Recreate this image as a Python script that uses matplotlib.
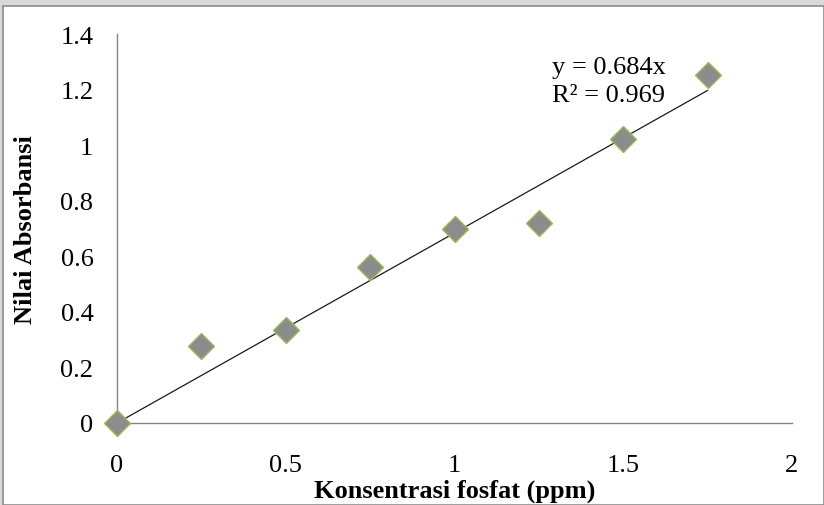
import matplotlib
matplotlib.use('Agg')
import matplotlib.pyplot as plt
from matplotlib.patches import Rectangle

konsentrasi = [0, 0.25, 0.5, 0.75, 1.0, 1.25, 1.5, 1.75]
absorbansi = [0, 0.277, 0.335, 0.562, 0.698, 0.72, 1.022, 1.252]
slope = 0.684
r2 = 0.969
xticks = [0, 0.5, 1, 1.5, 2]
yticks = [0, 0.2, 0.4, 0.6, 0.8, 1, 1.2, 1.4]

plt.rcParams['font.family'] = ['Liberation Serif', 'DejaVu Serif']

size = 824, 506
dpi = 100.0
fig = plt.figure(figsize=(size[0]/dpi, size[1]/dpi), dpi=dpi, facecolor='#d9d9d9')

# white chart area with grey frame
fig.patches.append(Rectangle((3/size[0], 0), 1 - 3/size[0], 1 - 7/size[1],
                             transform=fig.transFigure, fc='white', ec='#8c8c8c',
                             lw=1.2, zorder=-10))

ax = fig.add_axes([117/size[0], (506-424)/size[1], (792-117)/size[0], (424-35)/size[1]])
ax.set_xlim(0, 2)
ax.set_ylim(0, 1.4)
ax.patch.set_alpha(0)

for s in ['top', 'right']:
    ax.spines[s].set_visible(False)
for s in ['left', 'bottom']:
    ax.spines[s].set_color('#868686')
    ax.spines[s].set_linewidth(1.0)

ax.set_xticks(xticks)
ax.set_xticklabels(['0', '0.5', '1', '1.5', '2'])
ax.set_yticks(yticks)
ax.set_yticklabels(['0', '0.2', '0.4', '0.6', '0.8', '1', '1.2', '1.4'])
ax.tick_params(length=0, labelsize=19)
ax.tick_params(axis='y', pad=17)
ax.tick_params(axis='x', pad=22)

xl = [0, konsentrasi[-1]]
ax.plot(xl, [slope*v for v in xl], color='#1a1a1a', lw=0.9, zorder=2)
ax.plot(konsentrasi, absorbansi, linestyle='none', marker='D', markersize=13,
        markerfacecolor='#8c8c8c', markeredgecolor='#9bbb59', markeredgewidth=1.0,
        clip_on=False, zorder=3)

ax.text(1.289, 1.281, 'y = 0.684x', fontsize=19, ha='left', va='center')
ax.text(1.289, 1.180, 'R² = 0.969', fontsize=19, ha='left', va='center')

ax.set_xlabel('Konsentrasi fosfat (ppm)', fontsize=19, fontweight='bold', labelpad=2)
ax.set_ylabel('Nilai Absorbansi', fontsize=19, fontweight='bold', labelpad=17)

fig.savefig('out.png', dpi=dpi, facecolor=fig.get_facecolor())
